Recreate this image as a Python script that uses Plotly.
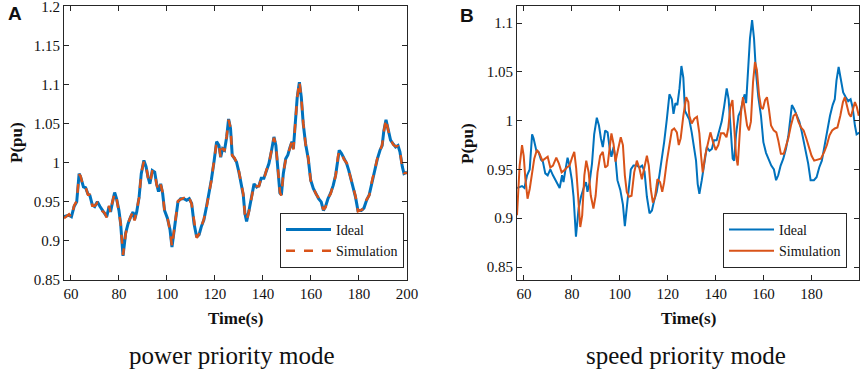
import plotly.graph_objects as go

# ---------------- data ----------------
t_ideal = [57.1, 59.2, 60.2, 61.3, 62.4, 63.4, 64.0, 65.2, 66.1, 67.1, 67.9, 68.9, 69.9, 71.0, 72.1, 73.1,
           74.0, 74.9, 75.9, 76.5, 77.2, 78.2, 79.0, 80.0, 80.7, 81.7, 82.8, 83.8, 84.9, 85.9, 86.5, 87.4,
           88.4, 89.3, 90.4, 91.3, 92.1, 92.9, 93.9, 94.9, 95.7, 96.5, 97.4, 98.2, 99.0, 100.2, 101.3, 102.1,
           103.6, 104.6, 105.7, 107.1, 108.2, 109.3, 110.3, 111.3, 112.4, 113.4, 114.3, 115.4, 116.5, 117.5,
           118.5, 119.6, 120.7, 121.7, 122.4, 123.2, 124.0, 124.9, 125.7, 126.5, 127.2, 128.2, 129.0, 130.0,
           131.0, 131.8, 132.5, 133.2, 134.2, 135.2, 136.3, 137.4, 138.4, 139.3, 140.4, 141.5, 142.5, 143.5,
           144.6, 145.4, 146.3, 147.1, 147.7, 148.5, 149.5, 150.4, 151.3, 152.1, 152.7, 153.5, 154.3, 155.2,
           156.0, 156.8, 157.8, 158.9, 159.9, 161.0, 162.1, 163.2, 164.3, 165.2, 166.1, 167.1, 168.2, 169.3,
           170.3, 171.3, 171.8, 172.7, 173.8, 174.9, 175.8, 176.8, 177.7, 178.6, 179.6, 181.0, 182.1, 183.2,
           184.3, 185.6, 186.5, 187.7, 188.8, 189.7, 190.4, 191.3, 192.1, 193.2, 194.3, 195.3, 196.3, 197.1,
           198.1, 198.8, 200.1]
p_ideal = [0.931, 0.933, 0.931, 0.944, 0.950, 0.986, 0.982, 0.969, 0.968, 0.960, 0.958, 0.946, 0.944, 0.950,
           0.944, 0.939, 0.935, 0.931, 0.944, 0.937, 0.948, 0.962, 0.954, 0.939, 0.922, 0.881, 0.910, 0.922,
           0.931, 0.937, 0.927, 0.937, 0.956, 0.986, 1.003, 0.995, 0.982, 0.973, 0.990, 0.988, 0.973, 0.963,
           0.973, 0.961, 0.939, 0.929, 0.914, 0.892, 0.927, 0.950, 0.954, 0.954, 0.952, 0.954, 0.948, 0.922,
           0.905, 0.908, 0.918, 0.927, 0.944, 0.959, 0.978, 1.001, 1.027, 1.022, 1.007, 1.018, 1.016, 1.033,
           1.056, 1.044, 1.010, 1.005, 1.001, 0.988, 0.971, 0.959, 0.935, 0.925, 0.939, 0.956, 0.973, 0.969,
           0.971, 0.980, 0.980, 0.990, 0.999, 1.014, 1.033, 1.022, 0.990, 0.961, 0.959, 0.986, 1.005, 1.010,
           1.020, 1.027, 1.018, 1.050, 1.084, 1.103, 1.084, 1.050, 1.024, 1.005, 0.978, 0.967, 0.961, 0.954,
           0.950, 0.939, 0.944, 0.954, 0.961, 0.971, 0.984, 1.007, 1.016, 1.012, 1.005, 0.999, 0.990, 0.978,
           0.969, 0.956, 0.939, 0.939, 0.942, 0.952, 0.959, 0.978, 0.990, 1.005, 1.016, 1.022, 1.041, 1.055,
           1.044, 1.029, 1.024, 1.020, 1.022, 1.014, 0.995, 0.986, 0.988]

# Power priority mode: simulation tracks the ideal curve almost exactly
p_sim_power = [0.929, 0.934, 0.930, 0.945, 0.951, 0.985, 0.983, 0.968, 0.969, 0.959, 0.959, 0.945, 0.945, 0.949,
               0.945, 0.938, 0.936, 0.930, 0.945, 0.936, 0.949, 0.961, 0.955, 0.938, 0.923, 0.882, 0.909, 0.923,
               0.930, 0.938, 0.926, 0.938, 0.955, 0.987, 1.002, 0.996, 0.981, 0.974, 0.989, 0.989, 0.972, 0.964,
               0.972, 0.962, 0.938, 0.930, 0.913, 0.893, 0.926, 0.951, 0.953, 0.955, 0.951, 0.955, 0.947, 0.923,
               0.904, 0.909, 0.917, 0.928, 0.943, 0.960, 0.977, 1.002, 1.026, 1.023, 1.006, 1.019, 1.015, 1.034,
               1.055, 1.045, 1.009, 1.006, 1.000, 0.989, 0.970, 0.960, 0.934, 0.926, 0.938, 0.957, 0.972, 0.970,
               0.970, 0.981, 0.979, 0.991, 0.998, 1.015, 1.032, 1.023, 0.989, 0.962, 0.958, 0.987, 1.004, 1.011,
               1.019, 1.028, 1.017, 1.051, 1.083, 1.104, 1.083, 1.051, 1.023, 1.006, 0.977, 0.968, 0.960, 0.955,
               0.949, 0.940, 0.943, 0.955, 0.960, 0.972, 0.983, 1.008, 1.015, 1.013, 1.004, 1.000, 0.989, 0.979,
               0.968, 0.957, 0.938, 0.940, 0.941, 0.953, 0.958, 0.979, 0.989, 1.006, 1.015, 1.023, 1.040, 1.056,
               1.043, 1.030, 1.023, 1.021, 1.021, 1.015, 0.994, 0.987, 0.987]

# Speed priority mode: simulation (lagging, smoother)
t_sim_speed = [57.1, 58.2, 59.2, 59.9, 60.6, 61.5, 62.4, 63.3, 64.3, 65.4, 66.5, 67.7, 68.9, 69.9, 71.0, 72.1,
               73.5, 74.6, 75.7, 76.8, 77.9, 79.0, 80.2, 81.0, 81.8, 82.7, 83.5, 84.3, 85.2, 86.0, 87.0, 87.9,
               89.0, 89.9, 90.7, 91.8, 92.9, 93.9, 94.9, 95.7, 96.5, 97.4, 98.2, 99.3, 100.4, 101.3, 102.1, 102.9,
               103.8, 104.9, 106.0, 107.1, 108.2, 109.2, 110.2, 111.3, 112.1, 112.9, 113.8, 114.7, 115.7, 116.8,
               117.7, 118.5, 119.6, 120.7, 121.7, 122.7, 123.8, 124.6, 125.4, 126.5, 127.7, 128.6, 129.0, 130.0,
               131.1, 132.2, 133.2, 133.9, 134.6, 135.6, 136.7, 137.8, 138.9, 140.0, 141.1, 142.2, 143.4, 144.5,
               145.3, 146.1, 147.0, 147.8, 148.5, 149.2, 149.9, 150.6, 151.4, 152.2, 153.1, 153.9, 154.7, 155.6,
               156.4, 157.2, 158.1, 158.9, 159.7, 160.6, 161.4, 162.2, 163.1, 164.2, 165.3, 166.1, 167.2, 168.4,
               169.3, 170.3, 171.4, 172.5, 173.5, 174.5, 175.6, 176.7, 177.8, 178.9, 180.0, 181.1, 182.5, 183.9,
               185.3, 186.4, 187.5, 188.6, 189.7, 190.8, 192.0, 193.1, 193.9, 194.7, 195.6, 196.4, 197.2, 198.1,
               198.9, 199.7]
p_sim_speed = [0.903, 0.954, 0.975, 0.964, 0.940, 0.920, 0.930, 0.947, 0.961, 0.970, 0.966, 0.959, 0.961, 0.963,
               0.952, 0.954, 0.962, 0.956, 0.947, 0.949, 0.952, 0.954, 0.963, 0.968, 0.951, 0.913, 0.891, 0.903,
               0.944, 0.959, 0.947, 0.923, 0.910, 0.923, 0.947, 0.964, 0.968, 0.952, 0.954, 0.971, 0.987, 0.976,
               0.958, 0.971, 0.983, 0.975, 0.944, 0.927, 0.922, 0.923, 0.947, 0.959, 0.951, 0.940, 0.952, 0.964,
               0.954, 0.930, 0.916, 0.922, 0.940, 0.937, 0.927, 0.937, 0.958, 0.976, 0.990, 0.992, 0.988, 0.975,
               0.982, 1.005, 1.024, 1.019, 1.005, 0.997, 1.002, 1.004, 0.987, 0.964, 0.947, 0.964, 0.975, 0.988,
               0.978, 0.970, 0.975, 0.987, 0.987, 0.983, 0.993, 1.014, 1.021, 0.995, 0.964, 0.954, 0.982, 1.009,
               1.024, 1.012, 0.995, 0.990, 0.999, 1.040, 1.060, 1.052, 1.026, 1.014, 1.012, 1.021, 1.024, 1.012,
               0.995, 0.990, 0.988, 0.980, 0.966, 0.966, 0.973, 0.982, 0.995, 1.005, 1.007, 0.999, 0.993, 0.990,
               0.982, 0.973, 0.964, 0.959, 0.960, 0.961, 0.968, 0.975, 0.985, 0.990, 0.992, 0.993, 1.005, 1.019,
               1.024, 1.017, 1.007, 1.004, 1.012, 1.019, 1.014, 1.005]

xticks_a = [60, 80, 100, 120, 140, 160, 180, 200]
yticks_a = [0.85, 0.9, 0.95, 1.0, 1.05, 1.1, 1.15, 1.2]
yticklabels_a = ["0.85", "0.9", "0.95", "1", "1.05", "1.1", "1.15", "1.2"]
xticks_b = [60, 80, 100, 120, 140, 160, 180]
yticks_b = [0.85, 0.9, 0.95, 1.0, 1.05, 1.1]
yticklabels_b = ["0.85", "0.9", "0.95", "1", "1.05", "1.1"]

BLUE = "#0072BD"
ORANGE = "#D95319"
AX = "#262626"
SERIF = "Liberation Serif"
SANS = "Liberation Sans"
W, H = 865, 371

fig = go.Figure()
fig.add_trace(go.Scatter(x=t_ideal, y=p_ideal, mode="lines", name="Ideal",
                         line=dict(color=BLUE, width=3), xaxis="x", yaxis="y", legend="legend"))
fig.add_trace(go.Scatter(x=t_ideal, y=p_sim_power, mode="lines", name="Simulation",
                         line=dict(color=ORANGE, width=2.5, dash="dash"), xaxis="x", yaxis="y", legend="legend"))
fig.add_trace(go.Scatter(x=t_ideal, y=p_ideal, mode="lines", name="Ideal",
                         line=dict(color=BLUE, width=2), xaxis="x2", yaxis="y2", legend="legend2"))
fig.add_trace(go.Scatter(x=t_sim_speed, y=p_sim_speed, mode="lines", name="Simulation",
                         line=dict(color=ORANGE, width=2), xaxis="x2", yaxis="y2", legend="legend2"))

def px_x(p):
    return p / W

def px_y(p):
    return (H - p) / H

def axis_style():
    return dict(showline=True, linecolor=AX, linewidth=1, mirror="ticks", ticks="inside",
                ticklen=5, tickcolor=AX, showgrid=False, zeroline=False, ticklabeloverflow="allow",
                automargin=False, tickfont=dict(family=SERIF, size=15, color="#111111"))

legend_style = dict(xanchor="right", yanchor="bottom", bordercolor=AX, borderwidth=1, bgcolor="white",
                    font=dict(family=SERIF, size=14, color="#111111"), tracegroupgap=0, itemwidth=45)

fig.update_layout(
    width=W, height=H, margin=dict(l=0, r=0, t=0, b=0),
    font=dict(family=SERIF, color="#111111"),
    paper_bgcolor="white", plot_bgcolor="white", showlegend=True,
    xaxis=dict(domain=[px_x(64), px_x(407)], range=[57.1, 200.05], tickvals=xticks_a, anchor="y", **axis_style()),
    yaxis=dict(domain=[px_y(280), px_y(6)], range=[0.85, 1.2005], tickvals=yticks_a, ticktext=yticklabels_a,
               anchor="x", **axis_style()),
    xaxis2=dict(domain=[px_x(517), px_x(859)], range=[57.1, 199.8], tickvals=xticks_b, anchor="y2", **axis_style()),
    yaxis2=dict(domain=[px_y(280), px_y(6)], range=[0.8367, 1.1175], tickvals=yticks_b, ticktext=yticklabels_b,
                anchor="x2", **axis_style()),
    legend=dict(x=px_x(404), y=px_y(268), **legend_style),
    legend2=dict(x=px_x(847), y=px_y(268), **legend_style),
)

def ann(text, x, y, size, family, bold=False, angle=0):
    fig.add_annotation(text=("<b>%s</b>" % text) if bold else text, x=px_x(x), y=px_y(y),
                       xref="paper", yref="paper", showarrow=False, textangle=angle,
                       xanchor="center", yanchor="middle",
                       font=dict(family=family, size=size, color="#111111"))

ann("A", 15, 14, 19, SANS, bold=True)
ann("B", 467, 15, 19, SANS, bold=True)
ann("Time(s)", 236, 318, 17, SERIF, bold=True)
ann("Time(s)", 688, 318, 17, SERIF, bold=True)
ann("P(pu)", 17, 143, 17, SERIF, bold=True, angle=-90)
ann("P(pu)", 468, 143, 17, SERIF, bold=True, angle=-90)
ann("power priority mode", 232, 355, 25, SERIF)
ann("speed priority mode", 686, 355, 25, SERIF)

fig.write_html("out.html", config={"displayModeBar": False},
               post_script="document.body.style.margin='0';document.body.style.overflow='hidden';")
